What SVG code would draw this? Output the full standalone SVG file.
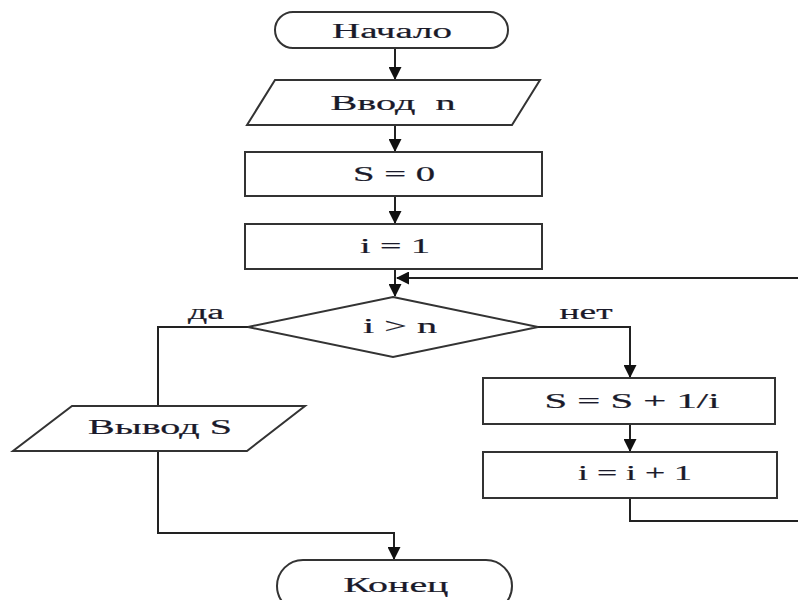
<svg xmlns="http://www.w3.org/2000/svg" width="798" height="600" viewBox="0 0 798 600">
<defs>
<marker id="arr" markerWidth="13" markerHeight="13" refX="12" refY="6.5" orient="auto" markerUnits="userSpaceOnUse" viewBox="0 0 13 13">
<path d="M0,0 L13,6.5 L0,13 z" fill="#111"/>
</marker>
<style>
.s{fill:#fff;stroke:#333;stroke-width:2}
.c{fill:none;stroke:#222;stroke-width:2}
.t{font-family:"Liberation Serif","Times New Roman",serif;font-size:20px;fill:#1a1a2a;text-anchor:middle;dominant-baseline:central;stroke:#1a1a2a;stroke-width:0.2;white-space:pre}
</style>
</defs>
<rect width="798" height="600" fill="#fff"/>
<g id="connectors">
<path class="c" d="M395,48 V79" marker-end="url(#arr)"/>
<path class="c" d="M395,125 V151" marker-end="url(#arr)"/>
<path class="c" d="M395,196 V223" marker-end="url(#arr)"/>
<path class="c" d="M395,269 V296" marker-end="url(#arr)"/>
<path class="c" d="M800,278 H397" marker-end="url(#arr)"/>
<path class="c" d="M248,327 H158 V406"/>
<path class="c" d="M158,451 V533 H394 V559" marker-end="url(#arr)"/>
<path class="c" d="M538,327 H630 V377" marker-end="url(#arr)"/>
<path class="c" d="M630,424 V451" marker-end="url(#arr)"/>
<path class="c" d="M630,498 V521 H800"/>
</g>
<g id="start">
<rect class="s" x="275" y="12" width="233" height="36" rx="18"/>
<text class="t" x="392" y="31" textLength="120" lengthAdjust="spacingAndGlyphs">Начало</text>
</g>
<g id="input">
<polygon class="s" points="275,80 540,80 512,125 247,125"/>
<text class="t" x="393" y="103" textLength="125" lengthAdjust="spacingAndGlyphs" xml:space="preserve">Ввод  n</text>
</g>
<g id="s0">
<rect class="s" x="245" y="152" width="297" height="44"/>
<text class="t" x="394" y="174" textLength="82" lengthAdjust="spacingAndGlyphs">S = 0</text>
</g>
<g id="i1">
<rect class="s" x="245" y="224" width="297" height="45"/>
<text class="t" x="395" y="246" textLength="70" lengthAdjust="spacingAndGlyphs">i = 1</text>
</g>
<g id="cond">
<polygon class="s" points="393,297 538,327 393,357 248,327"/>
<text class="t" x="400" y="326" textLength="74" lengthAdjust="spacingAndGlyphs">i &gt; n</text>
<text class="t" x="206" y="312" textLength="36" lengthAdjust="spacingAndGlyphs">да</text>
<text class="t" x="586" y="312" textLength="53" lengthAdjust="spacingAndGlyphs">нет</text>
</g>
<g id="output">
<polygon class="s" points="72,406 305,406 247,451 13,451"/>
<text class="t" x="160" y="427" textLength="144" lengthAdjust="spacingAndGlyphs">Вывод S</text>
</g>
<g id="sum">
<rect class="s" x="483" y="378" width="292" height="46"/>
<text class="t" x="632" y="401" textLength="175" lengthAdjust="spacingAndGlyphs">S = S + 1/i</text>
</g>
<g id="inc">
<rect class="s" x="483" y="452" width="294" height="46"/>
<text class="t" x="635" y="473" textLength="114" lengthAdjust="spacingAndGlyphs">i = i + 1</text>
</g>
<g id="end">
<rect class="s" x="277" y="560" width="235" height="52" rx="26"/>
<text class="t" x="396" y="585" textLength="105" lengthAdjust="spacingAndGlyphs">Конец</text>
</g>
</svg>
